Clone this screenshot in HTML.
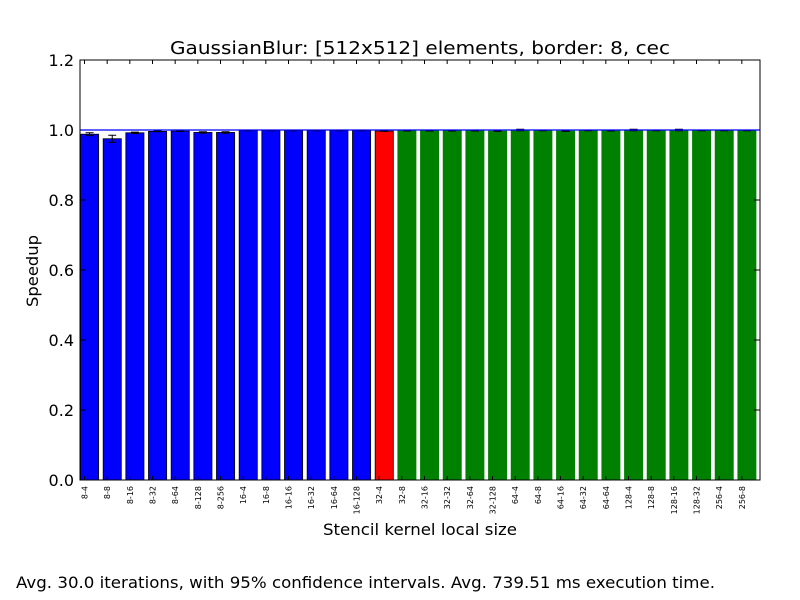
<!DOCTYPE html>
<html><head><meta charset="utf-8"><style>
body{margin:0;background:#fff;font-family:"DejaVu Sans","Liberation Sans",sans-serif;}
svg{display:block}
</style></head><body>
<svg id="chart" width="800" height="600" xmlns="http://www.w3.org/2000/svg" font-family="DejaVu Sans, Liberation Sans, sans-serif">
<rect width="800" height="600" fill="#fff"/>
<text x="420" y="54" font-size="18" text-anchor="middle" textLength="500" lengthAdjust="spacingAndGlyphs">GaussianBlur: [512x512] elements, border: 8, cec</text>
<g id="bars"></g>
<g id="yticks"></g>
<g id="xticks"></g>
<line x1="80" x2="760" y1="130" y2="130" stroke="#0000ff" stroke-width="1.2"/>
<rect x="80" y="60" width="680" height="420" fill="none" stroke="#000" stroke-width="1"/>
<text x="38" y="271" font-size="16" text-anchor="middle" textLength="72" lengthAdjust="spacingAndGlyphs" transform="rotate(-90 38 271)">Speedup</text>
<text x="420" y="535" font-size="16" text-anchor="middle" textLength="194" lengthAdjust="spacingAndGlyphs">Stencil kernel local size</text>
<text x="16" y="588" font-size="16" textLength="699" lengthAdjust="spacingAndGlyphs">Avg. 30.0 iterations, with 95% confidence intervals. Avg. 739.51 ms execution time.</text>
</svg>
<script>
const categories=["8-4","8-8","8-16","8-32","8-64","8-128","8-256","16-4","16-8","16-16","16-32","16-64","16-128","32-4","32-8","32-16","32-32","32-64","32-128","64-4","64-8","64-16","64-32","64-64","128-4","128-8","128-16","128-32","256-4","256-8"];
const values=[0.988,0.975,0.992,0.996,0.997,0.993,0.993,0.999,0.999,0.999,0.999,0.999,0.999,0.997,0.998,0.998,0.998,0.998,0.997,1.0,0.999,0.997,0.999,0.998,1.0,0.999,1.0,0.999,0.999,0.999];
const errors=[0.004,0.01,0.002,0.001,0.001,0.002,0.002,0.001,0.001,0.001,0.001,0.001,0.001,0.001,0.001,0.001,0.001,0.001,0.001,0.002,0.001,0.001,0.001,0.001,0.002,0.001,0.002,0.001,0.001,0.001];
const colors=["blue","blue","blue","blue","blue","blue","blue","blue","blue","blue","blue","blue","blue","red","green","green","green","green","green","green","green","green","green","green","green","green","green","green","green","green"];
const yTicks=[0,0.2,0.4,0.6,0.8,1.0,1.2];
const fillMap={blue:"#0000ff",red:"#ff0000",green:"#008000"};
const NS="http://www.w3.org/2000/svg";
const x0=80,x1=760,y0=480,y1=60,yMax=1.2;
const slot=(x1-x0)/categories.length;
const xs=i=>x0+i*slot;
const ys=v=>y0-(v/yMax)*(y0-y1);
function mk(tag,attrs){const e=document.createElementNS(NS,tag);for(const k in attrs)e.setAttribute(k,attrs[k]);return e;}
const gb=document.getElementById('bars'),gx=document.getElementById('xticks'),gy=document.getElementById('yticks');
categories.forEach((c,i)=>{
  const bx=xs(i)+0.5,bw=slot*0.8,top=ys(values[i]);
  const r=mk('rect',{x:bx,y:top,width:bw,height:y0-top,fill:fillMap[colors[i]],stroke:colors[i]==="green"?"#008000":"#000","stroke-width":0.8});
  
  
  gb.appendChild(r);
  const cx=bx+bw/2,e1=ys(values[i]+errors[i]),e2=ys(values[i]-errors[i]);
  const el=mk('path',{d:`M${cx},${e1}V${e2}M${cx-4},${e1}H${cx+4}M${cx-4},${e2}H${cx+4}`,stroke:"#000","stroke-width":1,fill:"none"});
  
  
  gb.appendChild(el);
  const tx=bx+4;
  const t=mk('line',{x1:tx,x2:tx,y1:y0,y2:y0-4,stroke:"#000"});
  
  
  gx.appendChild(t);
  const tt=mk('line',{x1:tx,x2:tx,y1:y1,y2:y1+4,stroke:"#000"});
  
  
  gx.appendChild(tt);
  const lb=mk('text',{x:tx+3,y:y0+6,"font-size":8,"text-anchor":"end",transform:`rotate(-90 ${tx+3} ${y0+6})`});
  lb.textContent=c;
  
  
  gx.appendChild(lb);
});
yTicks.forEach(v=>{
  const y=ys(v);
  const t=mk('path',{d:`M${x0},${y}h6M${x1},${y}h-6`,stroke:"#000"});
  
  
  gy.appendChild(t);
  const l=mk('text',{x:x0-6,y:y+6,"font-size":16,"text-anchor":"end"});
  l.textContent=v.toFixed(1);
  
  
  gy.appendChild(l);
});
</script>
</body></html>
